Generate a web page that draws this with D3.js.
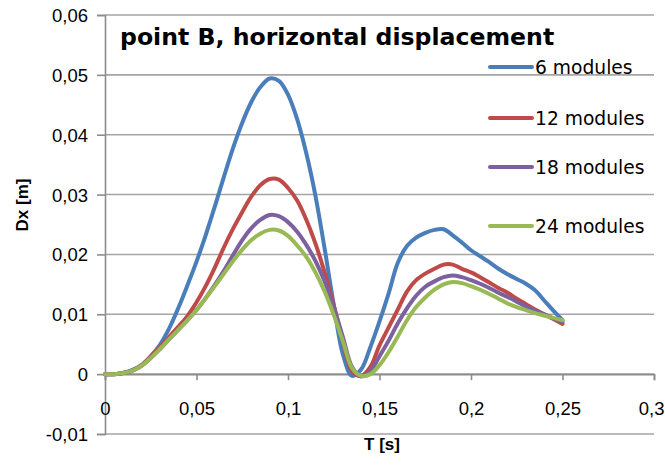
<!DOCTYPE html>
<html>
<head>
<meta charset="utf-8">
<script src="https://cdn.jsdelivr.net/npm/d3@7"></script>
<style>
  html, body { margin: 0; padding: 0; background: #fff; }
  svg { display: block; }
</style>
</head>
<body>
<svg id="chart" width="665" height="466"></svg>
<script>
// ---------- data ----------
const times = [0,0.005,0.01,0.015,0.02,0.025,0.03,0.035,0.04,0.045,0.05,0.055,0.06,0.065,0.07,0.075,0.08,0.085,0.09,0.095,0.1,0.105,0.11,0.115,0.12,0.125,0.13,0.135,0.14,0.145,0.15,0.155,0.16,0.165,0.17,0.175,0.18,0.185,0.19,0.195,0.2,0.205,0.21,0.215,0.22,0.225,0.23,0.235,0.24,0.245,0.25];

const modules6 = [0,0,0.0002,0.0007,0.0015,0.0030,0.0049,0.0076,0.0110,0.0148,0.0188,0.0232,0.0280,0.0330,0.0378,0.0420,0.0455,0.0480,0.0494,0.0490,0.0467,0.0426,0.0369,0.0298,0.0210,0.0116,0.0033,-0.0003,0.0008,0.0045,0.0088,0.0135,0.0186,0.0214,0.0228,0.0236,0.0241,0.0242,0.0232,0.0220,0.0207,0.0197,0.0187,0.0176,0.0167,0.0159,0.0151,0.0140,0.0123,0.0106,0.0090];

const modules12 = [0,0,0.0002,0.0006,0.0015,0.0029,0.0045,0.0062,0.0079,0.0097,0.0120,0.0147,0.0178,0.0212,0.0243,0.0271,0.0297,0.0316,0.0326,0.0325,0.0311,0.0290,0.0258,0.0218,0.0170,0.0115,0.0055,0.0005,-0.0003,0.0012,0.0048,0.0078,0.0108,0.0138,0.0157,0.0168,0.0176,0.0183,0.0183,0.0176,0.0170,0.0162,0.0153,0.0144,0.0136,0.0126,0.0117,0.0108,0.0100,0.0092,0.0084];

const modules18 = [0,0,0.0002,0.0006,0.0014,0.0027,0.0042,0.0058,0.0074,0.0090,0.0107,0.0127,0.0149,0.0173,0.0199,0.0224,0.0244,0.0258,0.0266,0.0264,0.0254,0.0238,0.0216,0.0189,0.0155,0.0112,0.0062,0.0012,-0.0004,0.0005,0.0030,0.0056,0.0085,0.0110,0.0131,0.0146,0.0155,0.0162,0.0165,0.0162,0.0157,0.0151,0.0144,0.0136,0.0129,0.0121,0.0113,0.0106,0.0100,0.0093,0.0087];

const modules24 = [0,0,0.0002,0.0006,0.0014,0.0027,0.0042,0.0058,0.0074,0.0090,0.0107,0.0127,0.0147,0.0168,0.0189,0.0208,0.0224,0.0235,0.0241,0.0240,0.0231,0.0215,0.0196,0.0170,0.0138,0.0099,0.0055,0.0010,-0.0003,0.0000,0.0015,0.0037,0.0063,0.0090,0.0112,0.0128,0.0141,0.0150,0.0154,0.0152,0.0147,0.0141,0.0134,0.0126,0.0118,0.0112,0.0107,0.0102,0.0098,0.0094,0.0090];

const seriesNames = ["6 modules","12 modules","18 modules","24 modules"];
const seriesValues = [modules6, modules12, modules18, modules24];
const seriesColors = ["#4a7ebb","#be4b48","#7d60a0","#98b954"];

const xTicks = [0,0.05,0.1,0.15,0.2,0.25,0.3];
const xTickLabels = ["0","0,05","0,1","0,15","0,2","0,25","0,3"];
const yTicks = [-0.01,0,0.01,0.02,0.03,0.04,0.05,0.06];
const yTickLabels = ["-0,01","0","0,01","0,02","0,03","0,04","0,05","0,06"];

const titleText = "point B, horizontal displacement";
const xTitle = "T [s]";
const yTitle = "Dx [m]";

// ---------- layout ----------
const plot = {left: 105, right: 654, top: 15, bottom: 434};
const legendY = [67, 118, 167, 226];
const gridColor = "#a5a5a5";

const svg = d3.select("#chart");
const x = d3.scaleLinear().domain([0, 0.3]).range([plot.left, plot.right]);
const y = d3.scaleLinear().domain([-0.01, 0.06]).range([plot.bottom, plot.top]);

// gridlines
svg.append("g").selectAll("line").data(yTicks).join("line")
  .attr("x1", plot.left).attr("x2", plot.right)
  .attr("y1", d => y(d)).attr("y2", d => y(d))
  .attr("stroke", gridColor).attr("stroke-width", 1.6);

// y axis
const yAxis = d3.axisLeft(y).tickValues(yTicks).tickSize(8)
  .tickFormat((d, i) => yTickLabels[i]);
const gy = svg.append("g").attr("transform", `translate(${plot.left},0)`).call(yAxis);
gy.select(".domain").attr("stroke", "#8c8c8c").attr("stroke-width", 1.6);
gy.selectAll(".tick line").attr("stroke", "#8c8c8c").attr("stroke-width", 1.6);
gy.selectAll(".tick text").attr("x", -17).attr("dy", "0.35em")
  .attr("font-family", "Liberation Sans, Arial, sans-serif").attr("font-size", 18.5).attr("fill", "#000");

// x axis at zero
const xAxis = d3.axisBottom(x).tickValues(xTicks).tickSize(6)
  .tickFormat((d, i) => xTickLabels[i]);
const gx = svg.append("g").attr("transform", `translate(0,${y(0)})`).call(xAxis);
gx.select(".domain").attr("stroke", "#8c8c8c").attr("stroke-width", 1.6);
gx.selectAll(".tick text").attr("y", 41).attr("dy", "0")
  .attr("font-family", "Liberation Sans, Arial, sans-serif").attr("font-size", 18.5).attr("fill", "#000");
// keep the last label inside the picture
gx.selectAll(".tick text").filter((d, i) => i === xTicks.length - 1)
  .attr("text-anchor", "end").attr("x", 10);
gx.selectAll(".tick line").attr("stroke", "#8c8c8c").attr("stroke-width", 1.6);

// lines
const line = d3.line()
  .x((d, i) => x(times[i]))
  .y(d => y(d))
  .curve(d3.curveCatmullRom.alpha(0.5));

svg.append("g").selectAll("path").data(seriesValues).join("path")
  .attr("d", d => line(d))
  .attr("fill", "none")
  .attr("stroke", (d, i) => seriesColors[i])
  .attr("stroke-width", 4)
  .attr("stroke-linejoin", "round")
  .attr("stroke-linecap", "round");

// legend
const lg = svg.append("g");
seriesNames.forEach((name, i) => {
  lg.append("line").attr("x1", 490).attr("x2", 532)
    .attr("y1", legendY[i]).attr("y2", legendY[i])
    .attr("stroke", seriesColors[i]).attr("stroke-width", 4).attr("stroke-linecap", "round");
  lg.append("text").attr("x", 535).attr("y", legendY[i]).attr("dy", "0.35em")
    .attr("font-family", "DejaVu Sans, Verdana, sans-serif").attr("font-size", 18.7)
    .attr("fill", "#000").text(name);
});

// title
svg.append("text").attr("x", 120).attr("y", 45)
  .attr("font-family", "DejaVu Sans, Verdana, sans-serif").attr("font-weight", "bold")
  .attr("font-size", 23.6).attr("fill", "#000").text(titleText);

// axis titles
svg.append("text").attr("x", 382).attr("y", 450).attr("text-anchor", "middle")
  .attr("font-family", "Liberation Sans, Arial, sans-serif").attr("font-weight", "bold")
  .attr("font-size", 17).attr("fill", "#000").text(xTitle);
svg.append("text").attr("transform", "translate(28,205) rotate(-90)").attr("text-anchor", "middle")
  .attr("font-family", "Liberation Sans, Arial, sans-serif").attr("font-weight", "bold")
  .attr("font-size", 17).attr("fill", "#000").text(yTitle);
</script>
</body>
</html>
